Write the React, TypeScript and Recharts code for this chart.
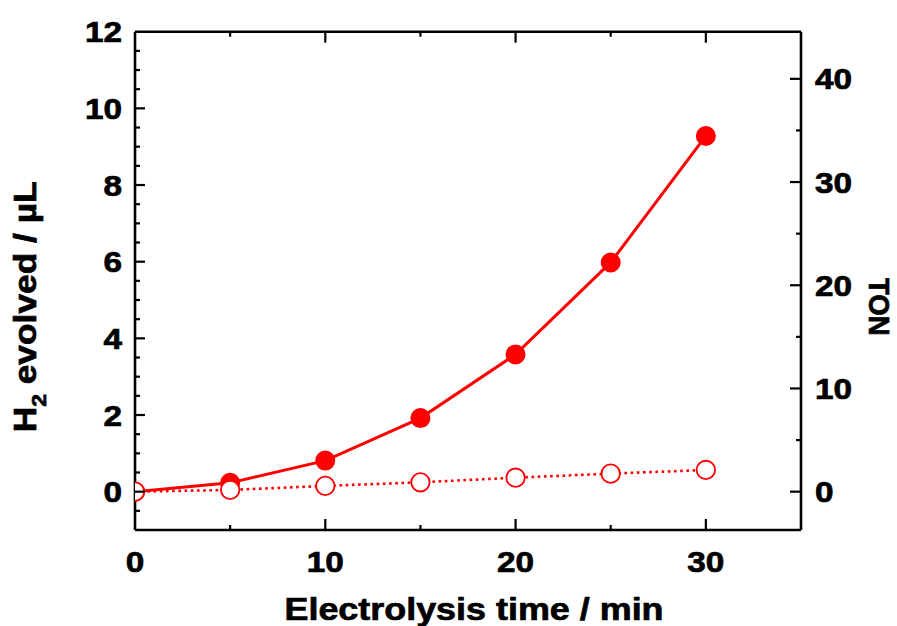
import React from "react";
import { LineChart, Line, XAxis, YAxis } from "recharts";

const timeMin = [0, 5, 10, 15, 20, 25, 30];
const h2Evolved = [0, 0.23, 0.81, 1.92, 3.58, 5.98, 9.28];
const h2Blank = [0, 0.045, 0.15, 0.245, 0.365, 0.47, 0.566];

const xTicks = [0, 5, 10, 15, 20, 25, 30];
const xTopTicks = [5, 10, 15, 20, 25, 30];
const xLabelTicks = [0, 10, 20, 30];
const leftTicks = [-0.5, 0, 0.5, 1, 1.5, 2, 2.5, 3, 3.5, 4, 4.5, 5, 5.5, 6, 6.5, 7, 7.5, 8, 8.5, 9, 9.5, 10, 10.5, 11, 11.5, 12];
const leftLabelTicks = [0, 2, 4, 6, 8, 10, 12];
const rightTicks = [0, 5, 10, 15, 20, 25, 30, 35, 40];
const rightLabelTicks = [0, 10, 20, 30, 40];
const TON_PER_UL = 3.714;

const data = timeMin.map((t, i) => ({ t, filled: h2Evolved[i], open: h2Blank[i] }));

const FONT = "Liberation Sans, Arial, sans-serif";
const TICK_FS = 29.5;
const SX = 1.13;
const RED = "#ff0000";
const TXT = { fontFamily: FONT, fontWeight: 700 as any, fill: "#000", stroke: "#000", strokeWidth: 0.7 };

const LeftTick = (props: any) => {
  const { x, y, payload } = props;
  const v = payload.value;
  const major = leftLabelTicks.includes(v);
  return (
    <g>
      {v !== 12 && <line x1={x} x2={x + (major ? 10 : 5)} y1={y} y2={y} stroke="#000" strokeWidth={2.2} />}
      {major && (
        <text
          transform={`translate(${x - 13},${y + 0.358 * TICK_FS}) scale(${SX},1)`}
          textAnchor="end"
          fontSize={TICK_FS}
          {...TXT}
        >
          {v}
        </text>
      )}
    </g>
  );
};

const RightTick = (props: any) => {
  const { x, y, payload } = props;
  const v = payload.value;
  const major = rightLabelTicks.includes(v);
  return (
    <g>
      <line x1={x} x2={x - (major ? 11 : 5)} y1={y} y2={y} stroke="#000" strokeWidth={2.2} />
      {major && (
        <text
          transform={`translate(${x + 14},${y + 0.358 * TICK_FS}) scale(${SX},1)`}
          textAnchor="start"
          fontSize={TICK_FS}
          {...TXT}
        >
          {v}
        </text>
      )}
    </g>
  );
};

const BottomTick = (props: any) => {
  const { x, y, payload } = props;
  const v = payload.value;
  const major = xLabelTicks.includes(v);
  return (
    <g>
      {v !== 0 && <line x1={x} x2={x} y1={y} y2={y - (major ? 11 : 5)} stroke="#000" strokeWidth={2.2} />}
      {major && (
        <text
          transform={`translate(${x},${y + 41.5}) scale(${SX},1)`}
          textAnchor="middle"
          fontSize={TICK_FS}
          {...TXT}
        >
          {v}
        </text>
      )}
    </g>
  );
};

const TopTick = (props: any) => {
  const { x, y, payload } = props;
  const v = payload.value;
  const major = xLabelTicks.includes(v);
  return <line x1={x} x2={x} y1={y} y2={y + (major ? 11 : 5)} stroke="#000" strokeWidth={2.2} />;
};

const XTitle = (props: any) => {
  const vb = props.viewBox || {};
  const cx = vb.x + vb.width / 2 + 6;
  return (
    <text
      transform={`translate(${cx},${vb.y + 90}) scale(1.14,1)`}
      textAnchor="middle"
      fontSize={31.5}
      {...TXT}
    >
      Electrolysis time / min
    </text>
  );
};

const YTitle = (props: any) => {
  const vb = props.viewBox || {};
  const cy = vb.y + vb.height / 2 + 26;
  return (
    <text
      transform={`translate(${vb.x + vb.width - 99},${cy}) rotate(-90) scale(1.14,1)`}
      textAnchor="middle"
      fontSize={31}
      {...TXT}
    >
      H<tspan fontSize={20} dy={10}>2</tspan>
      <tspan dy={-10}> evolved / µL</tspan>
    </text>
  );
};

const RTitle = (props: any) => {
  const vb = props.viewBox || {};
  const cy = vb.y + vb.height / 2 + 26;
  return (
    <text
      transform={`translate(${vb.x + 68},${cy}) rotate(90) scale(0.92,1)`}
      textAnchor="middle"
      fontSize={30}
      {...TXT}
    >
      TON
    </text>
  );
};

export default function App() {
  return (
    <div style={{ position: "absolute", left: 0, top: 0, width: 897, height: 626, background: "#fff" }}>
      <LineChart
        width={897}
        height={626}
        data={data}
        margin={{ top: 30.7, right: 95, bottom: 95, left: 134 }}
      >
        <XAxis
          xAxisId="bottom"
          dataKey="t"
          type="number"
          domain={[0, 35]}
          ticks={xTicks}
          allowDataOverflow
          height={1}
          tickSize={0}
          tickMargin={0}
          tickLine={false}
          tick={<BottomTick />}
          interval={0}
          axisLine={{ stroke: "#000", strokeWidth: 2.6 }}
          label={<XTitle />}
        />
        <XAxis
          xAxisId="top"
          orientation="top"
          dataKey="t"
          type="number"
          domain={[0, 35]}
          ticks={xTopTicks}
          allowDataOverflow
          height={1}
          tickSize={0}
          tickMargin={0}
          tickLine={false}
          tick={<TopTick />}
          interval={0}
          axisLine={{ stroke: "#000", strokeWidth: 2.6 }}
        />
        <YAxis
          yAxisId="left"
          type="number"
          domain={[-1, 12]}
          ticks={leftTicks}
          allowDataOverflow
          width={1}
          tickSize={0}
          tickMargin={0}
          tickLine={false}
          tick={<LeftTick />}
          interval={0}
          axisLine={{ stroke: "#000", strokeWidth: 2.6 }}
          label={<YTitle />}
        />
        <YAxis
          yAxisId="right"
          orientation="right"
          type="number"
          domain={[-1 * TON_PER_UL, 12 * TON_PER_UL]}
          ticks={rightTicks}
          allowDataOverflow
          width={1}
          tickSize={0}
          tickMargin={0}
          tickLine={false}
          tick={<RightTick />}
          interval={0}
          axisLine={{ stroke: "#000", strokeWidth: 2.6 }}
          label={<RTitle />}
        />
        <Line
          xAxisId="bottom"
          yAxisId="left"
          type="linear"
          dataKey="filled"
          stroke={RED}
          strokeWidth={3}
          dot={{ r: 9, fill: RED, stroke: RED, strokeWidth: 2 }}
          isAnimationActive={false}
        />
        <Line
          xAxisId="bottom"
          yAxisId="left"
          type="linear"
          dataKey="open"
          stroke={RED}
          strokeWidth={2.6}
          strokeDasharray="2.6 3.6"
          dot={{ r: 9.2, fill: "#fff", stroke: RED, strokeWidth: 1.8, strokeDasharray: "0" }}
          isAnimationActive={false}
        />
      </LineChart>
    </div>
  );
}
